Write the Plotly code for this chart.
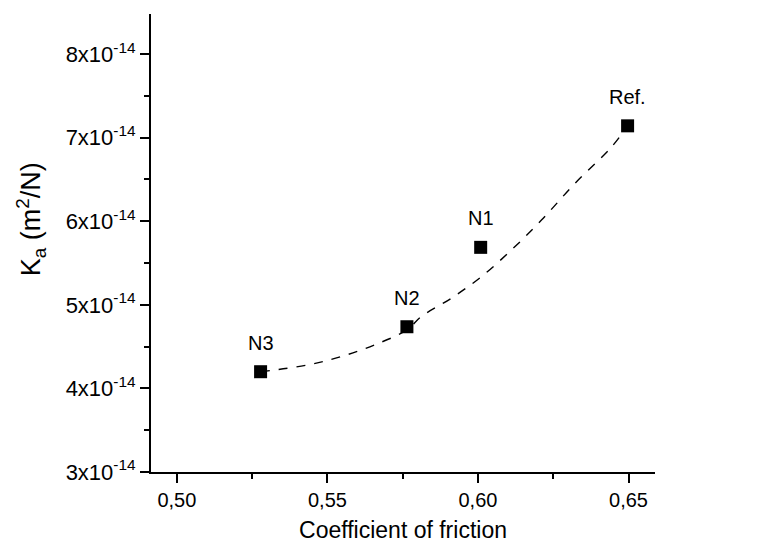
import plotly.graph_objects as go

# Data points
names = ["N3", "N2", "N1", "Ref."]
friction = [0.5278, 0.5764, 0.6009, 0.6497]
ka = [4.20e-14, 4.738e-14, 5.688e-14, 7.142e-14]

# Dashed trend curve
curve_x = [0.5278, 0.5433, 0.5544, 0.5655, 0.5764, 0.5811, 0.5911, 0.6011, 0.6111, 0.6211, 0.6322, 0.6444, 0.6497]
curve_y = [4.20e-14, 4.280e-14, 4.379e-14, 4.519e-14, 4.70e-14, 4.858e-14, 5.078e-14, 5.336e-14, 5.656e-14, 6.014e-14, 6.453e-14, 6.891e-14, 7.142e-14]

# Tick labels
y_tickvals = [3e-14, 4e-14, 5e-14, 6e-14, 7e-14, 8e-14]
y_ticktext = ["3x10<sup>-14</sup>", "4x10<sup>-14</sup>", "5x10<sup>-14</sup>",
              "6x10<sup>-14</sup>", "7x10<sup>-14</sup>", "8x10<sup>-14</sup>"]
x_tickvals = [0.50, 0.55, 0.60, 0.65]
x_ticktext = ["0,50", "0,55", "0,60", "0,65"]

x_title = "Coefficient of friction"
y_title = "K<sub>a</sub> (m<sup>2</sup>/N)"

FONT = "Liberation Sans, Arial, sans-serif"

fig = go.Figure()
fig.add_trace(go.Scatter(x=curve_x, y=curve_y, mode="lines",
                         line=dict(color="black", width=1.4, dash="dash", shape="spline"),
                         hoverinfo="skip", showlegend=False))
fig.add_trace(go.Scatter(x=friction, y=ka, mode="markers",
                         marker=dict(symbol="square", size=13, color="black"),
                         showlegend=False))

for n, xv, yv in zip(names, friction, ka):
    fig.add_annotation(x=xv, y=yv, text=n, showarrow=False, yshift=29,
                       font=dict(family=FONT, size=20, color="black"))

# Y-axis title as rotated annotation (placed like the reference)
fig.add_annotation(xref="paper", yref="paper", x=-0.238, y=0.552, text=y_title,
                   textangle=-90, showarrow=False, xanchor="center", yanchor="middle",
                   font=dict(family=FONT, size=27, color="black"))

fig.update_layout(
    width=766, height=558,
    margin=dict(l=151, r=111, t=14, b=86),
    paper_bgcolor="white", plot_bgcolor="white",
    font=dict(family=FONT, color="black"),
    xaxis=dict(range=[0.4914, 0.6588], tickmode="array", tickvals=x_tickvals, ticktext=x_ticktext,
               ticks="outside", ticklen=9, tickwidth=2, tickcolor="black",
               showline=True, linecolor="black", linewidth=2, showgrid=False, zeroline=False,
               tickfont=dict(family=FONT, size=20),
               minor=dict(tickmode="linear", tick0=0.5, dtick=0.025, ticks="outside",
                          ticklen=5, tickwidth=2, tickcolor="black", showgrid=False),
               title=dict(text=x_title, font=dict(family=FONT, size=23), standoff=12)),
    yaxis=dict(range=[3e-14, 8.48e-14], tickmode="array", tickvals=y_tickvals, ticktext=y_ticktext,
               ticks="outside", ticklen=9, tickwidth=2, tickcolor="black",
               showline=True, linecolor="black", linewidth=2, showgrid=False, zeroline=False,
               tickfont=dict(family=FONT, size=22),
               minor=dict(tickmode="linear", tick0=3e-14, dtick=0.5e-14, ticks="outside",
                          ticklen=5, tickwidth=2, tickcolor="black", showgrid=False)),
)

fig.write_html("out.html")
